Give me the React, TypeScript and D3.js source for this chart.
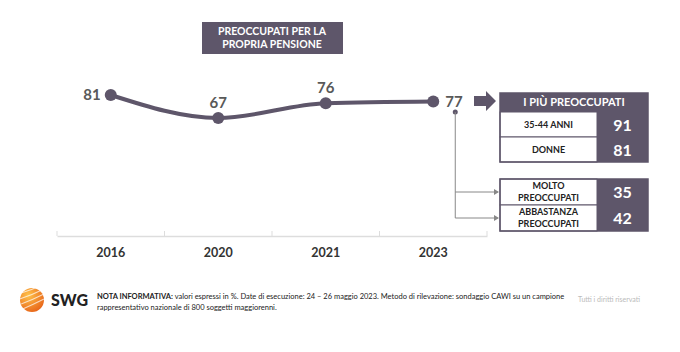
import React, { useEffect, useRef } from 'react';
import * as d3 from 'd3';

const years = ["2016", "2020", "2021", "2023"];
const values = [81, 67, 76, 77];
const topGroups = ["35-44 ANNI", "DONNE"];
const topValues = [91, 81];
const levelGroups = [["MOLTO", "PREOCCUPATI"], ["ABBASTANZA", "PREOCCUPATI"]];
const levelValues = [35, 42];

const DARK = "#5e566a";
const FONT = "Lato, 'Open Sans', sans-serif";

const App = () => {
  const ref = useRef<SVGSVGElement>(null);

  useEffect(() => {
    document.body.style.margin = "0";
    const svg = d3.select(ref.current);
    svg.selectAll("*").remove();

    // scales
    const x = d3.scaleBand().domain(years).range([57, 487]);
    const y = d3.scaleLinear().domain([67, 81]).range([118, 95]);
    const cx = (d: string) => (x(d) as number) + x.bandwidth() / 2;

    // title box
    svg.append("rect").attr("x", 202).attr("y", 22).attr("width", 141).attr("height", 32).attr("fill", DARK);
    ["PREOCCUPATI PER LA", "PROPRIA PENSIONE"].forEach((t, i) => {
      svg.append("text").attr("x", 272).attr("y", 35 + i * 13).attr("text-anchor", "middle")
        .attr("fill", "#fff").attr("font-family", FONT).attr("font-weight", 700).attr("font-size", 10.5).text(t);
    });

    // axis
    const axis = svg.append("g").attr("transform", "translate(0,236)")
      .call(d3.axisBottom(x).tickSize(0).tickPadding(12));
    axis.select(".domain").attr("stroke", "#ddd").attr("stroke-width", 1.5);
    axis.selectAll(".tick text").attr("font-family", FONT).attr("font-weight", 700)
      .attr("font-size", 12.5).attr("fill", "#333");
    const edges = years.map(d => x(d) as number).concat([x.range()[1]]);
    axis.selectAll(".sep").data(edges).enter().append("line")
      .attr("x1", d => d).attr("x2", d => d).attr("y1", -5).attr("y2", 0)
      .attr("stroke", "#ddd").attr("stroke-width", 1);

    // line
    const pts = years.map((d, i) => ({ year: d, v: values[i] }));
    const line = d3.line<{ year: string; v: number }>().x(d => cx(d.year)).y(d => y(d.v)).curve(d3.curveMonotoneX);
    svg.append("path").datum(pts).attr("d", line).attr("fill", "none").attr("stroke", DARK).attr("stroke-width", 4);
    svg.selectAll(".pt").data(pts).enter().append("circle")
      .attr("cx", d => cx(d.year)).attr("cy", d => y(d.v)).attr("r", 6).attr("fill", DARK);

    svg.selectAll(".lbl").data(pts).enter().append("text")
      .attr("x", (d, i) => i === 0 ? cx(d.year) - 10 : i === pts.length - 1 ? cx(d.year) + 12 : cx(d.year))
      .attr("y", (d, i) => i === 0 || i === pts.length - 1 ? y(d.v) + 5 : y(d.v) - 10)
      .attr("text-anchor", (d, i) => i === 0 ? "end" : i === pts.length - 1 ? "start" : "middle")
      .attr("font-family", FONT).attr("font-weight", 700).attr("font-size", 15).attr("fill", "#595959")
      .text(d => d.v);

    // block arrow
    svg.append("path").attr("d", "M474,96 L486,96 L486,91 L496,101 L486,111 L486,106 L474,106 Z").attr("fill", DARK);

    // connector from 77
    const lastX = cx(years[years.length - 1]) + 22;
    svg.append("circle").attr("cx", lastX).attr("cy", 112).attr("r", 2.5).attr("fill", DARK);
    const tx = 500, tw = 148, vx = 597;
    const rowH = 26;
    const levelY = levelValues.map((_, i) => 179 + i * rowH);
    svg.append("path")
      .attr("d", `M${lastX},112 L${lastX},${levelY[1] + rowH / 2} L${tx - 2},${levelY[1] + rowH / 2} M${lastX},${levelY[0] + rowH / 2} L${tx - 2},${levelY[0] + rowH / 2}`)
      .attr("fill", "none").attr("stroke", "#888").attr("stroke-width", 1);
    levelY.forEach(ly => {
      const m = ly + rowH / 2;
      svg.append("path").attr("d", `M${tx - 6},${m - 3} L${tx - 1},${m} L${tx - 6},${m + 3} Z`).attr("fill", "#888");
    });

    // top table
    svg.append("rect").attr("x", tx).attr("y", 93).attr("width", tw).attr("height", 19).attr("fill", DARK);
    svg.append("text").attr("x", tx + tw / 2).attr("y", 106).attr("text-anchor", "middle").attr("fill", "#fff")
      .attr("font-family", FONT).attr("font-weight", 700).attr("font-size", 11).text("I PIÙ PREOCCUPATI");
    topGroups.forEach((g, i) => {
      const ry = 112 + i * 25;
      svg.append("rect").attr("x", tx).attr("y", ry).attr("width", vx - tx).attr("height", 25)
        .attr("fill", "#fff").attr("stroke", DARK).attr("stroke-width", 1);
      svg.append("rect").attr("x", vx).attr("y", ry).attr("width", tx + tw - vx).attr("height", 25).attr("fill", DARK);
      svg.append("text").attr("x", (tx + vx) / 2).attr("y", ry + 16).attr("text-anchor", "middle").attr("fill", "#222")
        .attr("font-family", FONT).attr("font-weight", 700).attr("font-size", 9).text(g);
      svg.append("text").attr("x", (vx + tx + tw) / 2).attr("y", ry + 19).attr("text-anchor", "middle").attr("fill", "#fff")
        .attr("font-family", FONT).attr("font-weight", 700).attr("font-size", 16).text(topValues[i]);
    });
    svg.append("rect").attr("x", tx).attr("y", 93).attr("width", tw).attr("height", 69)
      .attr("fill", "none").attr("stroke", DARK).attr("stroke-width", 1.5);

    // level table
    levelGroups.forEach((g, i) => {
      const ry = levelY[i];
      svg.append("rect").attr("x", tx).attr("y", ry).attr("width", vx - tx).attr("height", rowH)
        .attr("fill", "#fff").attr("stroke", DARK).attr("stroke-width", 1);
      svg.append("rect").attr("x", vx).attr("y", ry).attr("width", tx + tw - vx).attr("height", rowH).attr("fill", DARK);
      g.forEach((t, j) => {
        svg.append("text").attr("x", (tx + vx) / 2).attr("y", ry + 10 + j * 12).attr("text-anchor", "middle").attr("fill", "#222")
          .attr("font-family", FONT).attr("font-weight", 700).attr("font-size", 9).text(t);
      });
      svg.append("text").attr("x", (vx + tx + tw) / 2).attr("y", ry + 19).attr("text-anchor", "middle").attr("fill", "#fff")
        .attr("font-family", FONT).attr("font-weight", 700).attr("font-size", 16).text(levelValues[i]);
    });
    svg.append("rect").attr("x", tx).attr("y", levelY[0]).attr("width", tw).attr("height", rowH * 2)
      .attr("fill", "none").attr("stroke", DARK).attr("stroke-width", 1.5);

    // footer logo
    const defs = svg.append("defs");
    const grad = defs.append("radialGradient").attr("id", "swg").attr("cx", "35%").attr("cy", "30%").attr("r", "75%");
    grad.append("stop").attr("offset", "0%").attr("stop-color", "#ffc24a");
    grad.append("stop").attr("offset", "100%").attr("stop-color", "#e8661a");
    svg.append("circle").attr("cx", 32).attr("cy", 300).attr("r", 12).attr("fill", "url(#swg)");
    [-6, -1, 4, 9].forEach(o => {
      svg.append("path").attr("d", `M${20 + o * 0.3},${300 + o} Q32,${296 + o} ${44},${290 + o}`)
        .attr("fill", "none").attr("stroke", "#fff").attr("stroke-opacity", 0.7).attr("stroke-width", 1.1);
    });
    svg.append("text").attr("x", 51).attr("y", 306).attr("font-family", FONT).attr("font-weight", 900)
      .attr("font-size", 16).attr("fill", "#222").text("SWG");

    const note = svg.append("text").attr("x", 97).attr("y", 299).attr("font-family", FONT).attr("font-size", 7.5).attr("fill", "#222");
    note.append("tspan").attr("font-weight", 700).text("NOTA INFORMATIVA:");
    note.append("tspan").text(" valori espressi in %. Date di esecuzione: 24 – 26 maggio 2023. Metodo di rilevazione: sondaggio CAWI su un campione");
    svg.append("text").attr("x", 97).attr("y", 310).attr("font-family", FONT).attr("font-size", 7.5).attr("fill", "#222")
      .text("rappresentativo nazionale di 800 soggetti maggiorenni.");
    svg.append("text").attr("x", 578).attr("y", 302).attr("font-family", FONT).attr("font-size", 7).attr("fill", "#bbb")
      .text("Tutti i diritti riservati");
  }, []);

  return <svg ref={ref} width={680} height={352} style={{ display: "block", background: "#fff" }} />;
};

export default App;
